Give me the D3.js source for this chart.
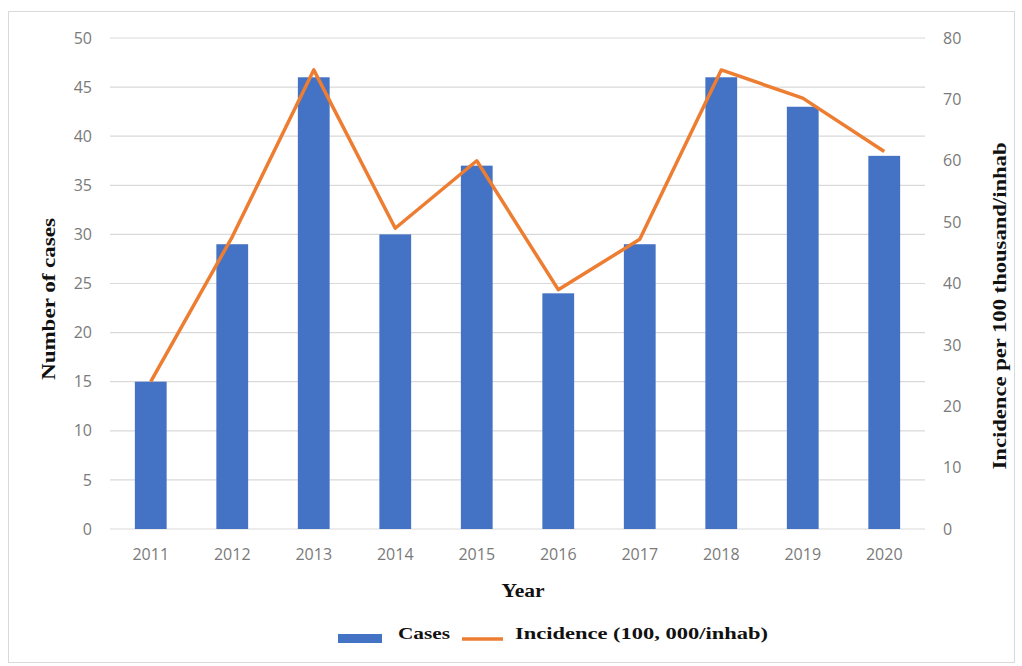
<!DOCTYPE html>
<html lang="en">
<head>
    <meta charset="UTF-8">
    <title>Cases and incidence 2011-2020</title>
    <script src="https://d3js.org/d3.v7.min.js"></script>
    <style>
        body { margin: 0; background: #fff; }
        svg { display: block; }
    </style>
</head>
<body>
<script>
    // data
    let years = ["2011", "2012", "2013", "2014", "2015", "2016", "2017", "2018", "2019", "2020"];
    let cases = [15, 29, 46, 30, 37, 24, 29, 46, 43, 38];
    let incidence = [24, 47.6, 74.8, 49, 60, 39, 47.2, 74.8, 70.2, 61.5];
    let leftTicks = [0, 5, 10, 15, 20, 25, 30, 35, 40, 45, 50];
    let rightTicks = [0, 10, 20, 30, 40, 50, 60, 70, 80];

    let width = 1022, height = 666;
    let plot = { left: 110, right: 925, top: 38, bottom: 529 };

    let svg = d3.select("body").append("svg")
                .attr("width", width)
                .attr("height", height);

    // outer frame
    svg.append("rect")
       .attr("x", 8.5).attr("y", 11.5)
       .attr("width", 1006).attr("height", 651)
       .attr("fill", "#fff")
       .attr("stroke", "#d9d9d9");

    let x = d3.scaleBand()
              .domain(years)
              .range([plot.left, plot.right])
              .paddingInner(0.61)
              .paddingOuter(0.305);
    let yL = d3.scaleLinear().domain([0, 50]).range([plot.bottom, plot.top]);
    let yR = d3.scaleLinear().domain([0, 80]).range([plot.bottom, plot.top]);

    /* gridlines */
    svg.append("g")
       .selectAll("line")
       .data(leftTicks)
       .enter()
       .append("line")
       .attr("x1", plot.left).attr("x2", plot.right)
       .attr("y1", d => yL(d)).attr("y2", d => yL(d))
       .attr("stroke", "#d9d9d9")
       .attr("stroke-width", 1.2);

    /* left axis */
    let leftAxis = svg.append("g")
                      .attr("transform", `translate(${plot.left - 18}, 0)`)
                      .call(d3.axisLeft(yL).tickValues(leftTicks).tickSize(0).tickPadding(0));
    leftAxis.select(".domain").remove();

    /* right axis */
    let rightAxis = svg.append("g")
                       .attr("transform", `translate(${plot.right + 18}, 0)`)
                       .call(d3.axisRight(yR).tickValues(rightTicks).tickSize(0).tickPadding(0));
    rightAxis.select(".domain").remove();

    /* x axis */
    let bottomAxis = svg.append("g")
                        .attr("transform", `translate(0, ${plot.bottom + 20})`)
                        .call(d3.axisBottom(x).tickSize(0).tickPadding(0));
    bottomAxis.select(".domain").remove();

    svg.selectAll(".tick text")
       .attr("font-family", "'Open Sans', sans-serif")
       .attr("font-size", 16)
       .attr("fill", "#7a7a7a");

    /* bars */
    svg.append("g")
       .selectAll("rect")
       .data(cases)
       .enter()
       .append("rect")
       .attr("x", (d, i) => x(years[i]))
       .attr("y", d => yL(d))
       .attr("width", x.bandwidth())
       .attr("height", d => yL(0) - yL(d))
       .attr("fill", "#4472c4");

    /* incidence line */
    let line = d3.line()
                 .x((d, i) => x(years[i]) + x.bandwidth() / 2)
                 .y(d => yR(d));
    svg.append("path")
       .datum(incidence)
       .attr("d", line)
       .attr("fill", "none")
       .attr("stroke", "#ed7d31")
       .attr("stroke-width", 3.5)
       .attr("stroke-linejoin", "round");

    /* titles: the source text is a stretched bold Times, so force widths */
    let serif = "'Liberation Serif', 'Times New Roman', serif";
    function title(g, txt, len, size) {
        return g.append("text")
                .attr("font-family", serif).attr("font-weight", "bold")
                .attr("font-size", size).attr("fill", "#111")
                .attr("textLength", len)
                .attr("lengthAdjust", "spacingAndGlyphs")
                .text(txt);
    }

    title(svg, "Number of cases", 162, 18)
        .attr("transform", "translate(55, 299) rotate(-90)")
        .attr("text-anchor", "middle");

    title(svg, "Incidence per 100 thousand/inhab", 327, 18)
        .attr("transform", "translate(1006, 306) rotate(-90)")
        .attr("text-anchor", "middle");

    title(svg, "Year", 43, 18)
        .attr("x", 523).attr("y", 597)
        .attr("text-anchor", "middle");

    /* legend */
    let legend = svg.append("g");
    legend.append("rect")
          .attr("x", 338).attr("y", 634)
          .attr("width", 44).attr("height", 9)
          .attr("fill", "#4472c4");
    title(legend, "Cases", 52, 17)
          .attr("x", 398).attr("y", 639);
    legend.append("line")
          .attr("x1", 462).attr("x2", 503)
          .attr("y1", 639).attr("y2", 639)
          .attr("stroke", "#ed7d31").attr("stroke-width", 3.5);
    title(legend, "Incidence (100, 000/inhab)", 253, 17)
          .attr("x", 515).attr("y", 639);
</script>
</body>
</html>
